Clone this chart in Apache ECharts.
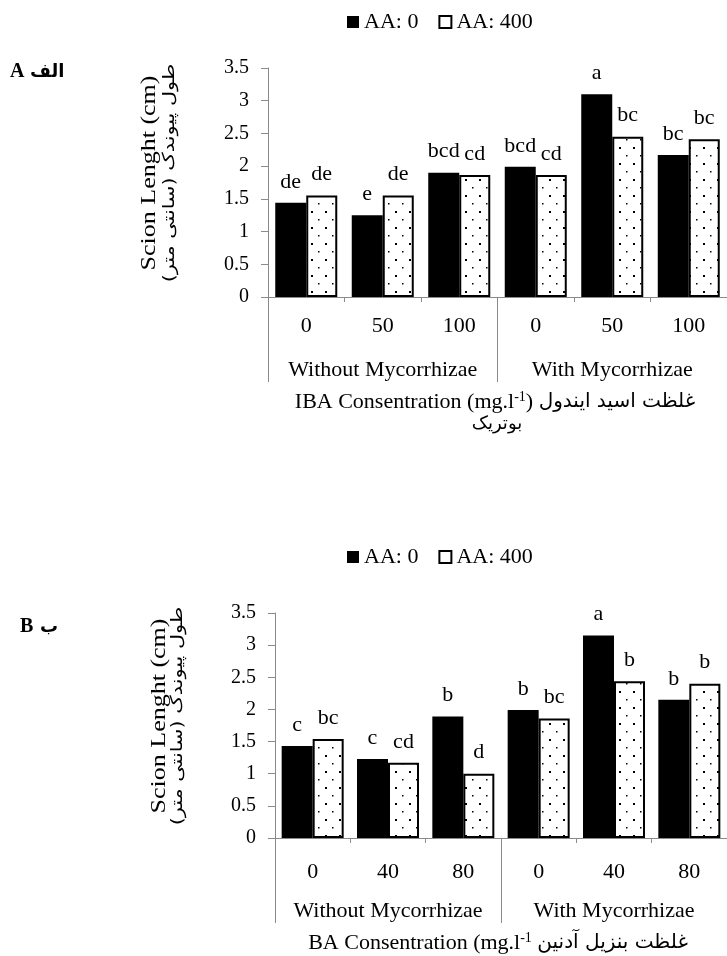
<!DOCTYPE html>
<html><head><meta charset="utf-8">
<script src="https://cdn.jsdelivr.net/npm/echarts@6/dist/echarts.min.js"></script>
<style>html,body{margin:0;padding:0;background:#fff}#c{width:727px;height:956px}</style>
</head><body><div id="c"></div>
<script>
// ---------- data ----------
const catsA = ['0', '50', '100', '0', '50', '100'];
const catsB = ['0', '40', '80', '0', '40', '80'];
const groups = ['Without Mycorrhizae', 'With Mycorrhizae'];
const seriesNames = ['AA: 0', 'AA: 400'];
const aa0A = [1.44, 1.25, 1.90, 1.99, 3.10, 2.17];
const aa400A = [1.55, 1.55, 1.865, 1.865, 2.45, 2.41];
const lettersA0 = ['de', 'e', 'bcd', 'bcd', 'a', 'bc'];
const lettersA400 = ['de', 'de', 'cd', 'cd', 'bc', 'bc'];
const aa0B = [1.43, 1.23, 1.89, 1.99, 3.15, 2.15];
const aa400B = [1.54, 1.17, 1.00, 1.86, 2.44, 2.40];
const lettersB0 = ['c', 'c', 'b', 'b', 'a', 'b'];
const lettersB400 = ['bc', 'cd', 'd', 'bc', 'b', 'b'];
const yMin = 0, yMax = 3.5, yStep = 0.5;

// ---------- styles ----------
const SERIF = '"Liberation Serif", "DejaVu Sans", serif';
const AX = '#8a8a8a';
function dotPattern() {
  const c = document.createElement('canvas');
  c.width = 14; c.height = 16;
  const g = c.getContext('2d');
  g.fillStyle = '#fff'; g.fillRect(0, 0, 14, 16);
  g.fillStyle = '#000';
  g.fillRect(3, 3, 2, 2);
  g.fillRect(10, 11, 1.5, 1.5);
  return c;
}
const pat = { image: dotPattern(), repeat: 'repeat' };

const grids = [
  { left: 268, top: 68, width: 461, height: 229 },
  { left: 275, top: 613, width: 461, height: 225 }
];
const labelMargins = [18, 23];

function xAxes(gi, cats) {
  return [
    {
      type: 'category', gridIndex: gi, data: cats, position: 'bottom',
      axisLine: { lineStyle: { color: AX, width: 1 } },
      axisTick: { show: true, interval: 0, length: 5, alignWithLabel: false, lineStyle: { color: AX } },
      axisLabel: { interval: 0, fontSize: 22, fontFamily: SERIF, color: '#000', margin: labelMargins[gi] }
    },
    {
      type: 'category', gridIndex: gi, data: groups, position: 'bottom',
      axisLine: { show: false },
      axisTick: { show: true, interval: 0, length: 85, lineStyle: { color: AX } },
      axisLabel: { interval: 0, fontSize: 22, fontFamily: SERIF, color: '#000', margin: 62, hideOverlap: false }
    }
  ];
}
function yAxis(gi) {
  return {
    type: 'value', gridIndex: gi, min: yMin, max: yMax, interval: yStep,
    axisLine: { show: true, lineStyle: { color: AX } },
    axisTick: { show: true, length: 7, lineStyle: { color: AX } },
    splitLine: { show: false },
    axisLabel: { fontSize: 20, fontFamily: SERIF, color: '#000', margin: 19 }
  };
}
function bars(gi, xi, name, data, letters, dotted) {
  return {
    type: 'bar', name, xAxisIndex: xi, yAxisIndex: gi, data,
    barWidth: 31, barGap: '0%',
    itemStyle: dotted ? { color: pat, borderColor: '#000', borderWidth: 2 } : { color: '#000' },
    label: {
      show: true, position: 'top', distance: 10, fontSize: 22, fontFamily: SERIF, color: '#000',
      formatter: p => letters[p.dataIndex]
    },
    emphasis: { disabled: true }
  };
}
function legend(top) {
  return {
    left: 347, top, padding: 0, icon: 'rect', itemWidth: 12, itemHeight: 12, itemGap: 20,
    textStyle: { fontSize: 22, fontFamily: SERIF, color: '#000' },
    data: [
      { name: seriesNames[0], itemStyle: { color: '#000' } },
      { name: seriesNames[1], itemStyle: { color: '#fff', borderColor: '#000', borderWidth: 2 } }
    ]
  };
}
function txt(text, x, y, opt) {
  return Object.assign({
    type: 'text', x, y, silent: true,
    style: Object.assign({ text, fill: '#000', fontSize: 22, fontFamily: SERIF, textAlign: 'center', textVerticalAlign: 'middle' }, (opt && opt.style) || {})
  }, (opt && opt.el) || {});
}
const richT = {
  a: { fontSize: 22, fontFamily: SERIF, color: '#000', lineHeight: 24 },
  p: { fontSize: 20, fontFamily: '"DejaVu Sans", sans-serif', color: '#000', lineHeight: 24 },
  sup: { fontSize: 14, fontFamily: SERIF, color: '#000', verticalAlign: 'top', lineHeight: 24 }
};
const RLE = '\u202B', PDF = '\u202C';

const chart = echarts.init(document.getElementById('c'), null, { renderer: 'canvas' });
chart.setOption({
  animation: false,
  backgroundColor: '#fff',
  grid: grids,
  legend: [legend(11), legend(546)],
  xAxis: [...xAxes(0, catsA), ...xAxes(1, catsB)],
  yAxis: [yAxis(0), yAxis(1)],
  series: [
    bars(0, 0, seriesNames[0], aa0A, lettersA0, false),
    bars(0, 0, seriesNames[1], aa400A, lettersA400, true),
    bars(1, 2, seriesNames[0], aa0B, lettersB0, false),
    bars(1, 2, seriesNames[1], aa400B, lettersB400, true)
  ],
  graphic: [
    txt('A', 10, 72, { style: { fontWeight: 'bold', fontSize: 20, textAlign: 'left' } }),
    txt('الف', 30, 72, { style: { fontWeight: 'bold', fontSize: 18, textAlign: 'left', fontFamily: '"DejaVu Sans", sans-serif' } }),
    txt('B', 20, 627, { style: { fontWeight: 'bold', fontSize: 20, textAlign: 'left' } }),
    txt('ب', 40, 627, { style: { fontWeight: 'bold', fontSize: 18, textAlign: 'left', fontFamily: '"DejaVu Sans", sans-serif' } }),
    txt('Scion Lenght (cm)', 150, 173, { el: { rotation: Math.PI / 2, scaleX: 1.3 }, style: { fontSize: 20 } }),
    txt(RLE + 'طول پیوندک (سانتی متر)' + PDF, 170, 173, { el: { rotation: Math.PI / 2, scaleX: 1.3 }, style: { fontSize: 16, fontFamily: '"DejaVu Sans", sans-serif' } }),
    txt('Scion Lenght (cm)', 160, 716, { el: { rotation: Math.PI / 2, scaleX: 1.3 }, style: { fontSize: 20 } }),
    txt(RLE + 'طول پیوندک (سانتی متر)' + PDF, 178, 716, { el: { rotation: Math.PI / 2, scaleX: 1.3 }, style: { fontSize: 16, fontFamily: '"DejaVu Sans", sans-serif' } }),
    txt('{a|IBA Consentration (mg.l}{sup|-1}{a|)} {p|غلظت اسید ایندول}', 495, 402, { style: { rich: richT } }),
    txt('بوتریک', 497, 424, { style: { fontSize: 18, fontFamily: '"DejaVu Sans", sans-serif' } }),
    txt('{a|BA Consentration (mg.l}{sup|-1}{a| }{p|غلظت بنزیل آدنین}', 498, 943, { style: { rich: richT } })
  ]
});
</script></body></html>
